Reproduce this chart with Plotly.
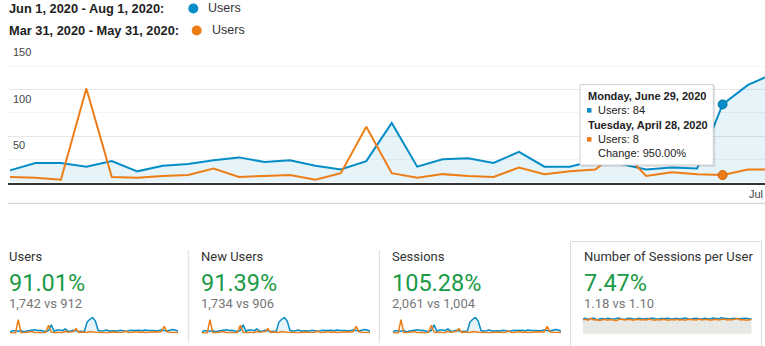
import plotly.graph_objects as go
import pandas as pd

W, H = 765, 346
def px(x): return x / W
def py(y): return 1 - y / H

# ---------------- data ----------------
dates = pd.date_range("2020-06-01", periods=62, freq="D")          # Jun 1 - Aug 1, 2020
prev_dates = pd.date_range("2020-03-31", periods=62, freq="D")     # Mar 31 - May 31, 2020

users_cur = [13, 21, 21, 17, 23, 12, 18, 20, 24, 27,
             22, 24, 18, 14, 23, 64, 17, 25, 26, 21,
             33, 17, 17, 24, 20, 14, 16, 15, 84, 105,
             117, 92, 22, 18, 20, 26, 19, 22, 20, 18,
             23, 21, 17, 20, 24, 22, 25, 23, 21, 26,
             24, 22, 25, 20, 23, 27, 22, 18, 24, 30,
             26, 17]
users_prev = [6, 5, 3, 101, 6, 5, 7, 8, 15, 6,
              7, 8, 3, 10, 60, 10, 5, 9, 7, 6,
              16, 9, 12, 14, 35, 7, 11, 9, 8, 14,
              14, 9, 7, 10, 8, 6, 9, 7, 11, 8,
              6, 9, 18, 8, 7, 10, 15, 8, 11, 7,
              9, 8, 10, 12, 11, 14, 52, 12, 10, 9,
              11, 8]
spu_cur = [1.15, 1.20, 1.12, 1.18, 1.22, 1.10, 1.16, 1.19, 1.14, 1.21,
           1.17, 1.12, 1.19, 1.23, 1.15, 1.11, 1.18, 1.20, 1.16, 1.13,
           1.21, 1.18, 1.14, 1.19, 1.17, 1.22, 1.15, 1.12, 1.19, 1.16,
           1.18, 1.21, 1.14, 1.17, 1.20, 1.15, 1.19, 1.22, 1.16, 1.13,
           1.18, 1.21, 1.17, 1.14, 1.20, 1.18, 1.15, 1.22, 1.19, 1.16,
           1.24, 1.20, 1.17, 1.14, 1.19, 1.21, 1.16, 1.18, 1.15, 1.20,
           1.17, 1.14]
spu_prev = [1.08, 1.12, 1.05, 1.20, 1.07, 1.10, 1.04, 1.09, 1.13, 1.06,
            1.10, 1.08, 1.02, 1.11, 1.15, 1.07, 1.09, 1.12, 1.06, 1.10,
            1.13, 1.08, 1.11, 1.07, 1.14, 1.09, 1.06, 1.10, 1.08, 1.12,
            1.09, 1.05, 1.11, 1.08, 1.13, 1.07, 1.10, 1.06, 1.12, 1.09,
            1.11, 1.07, 1.15, 1.08, 1.10, 1.13, 1.06, 1.09, 1.12, 1.08,
            1.10, 1.14, 1.07, 1.11, 1.09, 1.12, 1.18, 1.08, 1.10, 1.06,
            1.09, 1.11]

y_ticks = [50, 100, 150]
y_minor = [25, 75, 125]
x_label = "Jul"

legend_ranges = ["Jun 1, 2020 - Aug 1, 2020:", "Mar 31, 2020 - May 31, 2020:"]
legend_metric = "Users"

hover_idx = 28  # Monday, June 29, 2020 vs Tuesday, April 28, 2020
hover_change = "950.00%"

metric_names = ["Users", "New Users", "Sessions", "Number of Sessions per User"]
metric_changes = ["91.01%", "91.39%", "105.28%", "7.47%"]
metric_compare = ["1,742 vs 912", "1,734 vs 906", "2,061 vs 1,004", "1.18 vs 1.10"]
spark_cur = [users_cur, users_cur, users_cur, spu_cur]
spark_prev = [users_prev, users_prev, users_prev, spu_prev]

# ---------------- style ----------------
BLUE = "#058DC7"
ORANGE = "#ED7E17"
GREEN = "#1a9a46"
ARIAL = "Liberation Sans, Arial, sans-serif"
ROBOTO = "Roboto, Arial, sans-serif"

fig = go.Figure()

# main chart
fig.add_trace(go.Scatter(x=dates, y=users_cur, mode="lines",
                         line=dict(color=BLUE, width=2),
                         fill="tozeroy", fillcolor="rgba(5,141,199,0.1)",
                         xaxis="x", yaxis="y", hoverinfo="skip"))
fig.add_trace(go.Scatter(x=dates, y=users_prev, mode="lines",
                         line=dict(color=ORANGE, width=2),
                         xaxis="x", yaxis="y", hoverinfo="skip"))
fig.add_trace(go.Scatter(x=[dates[hover_idx]], y=[users_cur[hover_idx]], mode="markers",
                         marker=dict(color=BLUE, size=9, line=dict(color="#04709f", width=1)),
                         xaxis="x", yaxis="y", hoverinfo="skip"))
fig.add_trace(go.Scatter(x=[dates[hover_idx]], y=[users_prev[hover_idx]], mode="markers",
                         marker=dict(color=ORANGE, size=9, line=dict(color="#c96510", width=1)),
                         xaxis="x", yaxis="y", hoverinfo="skip"))

# sparklines
spark_x = [(10, 178), (201.7, 370), (392.7, 561), (582.7, 751.7)]
layout_axes = {}
for i in range(4):
    n = i + 2
    xa, ya = f"x{n}", f"y{n}"
    if i < 3:
        fig.add_trace(go.Scatter(x=dates, y=spark_cur[i], mode="lines",
                                 line=dict(color=BLUE, width=1.5), fill="tozeroy",
                                 fillcolor="rgba(5,141,199,0.1)", xaxis=xa, yaxis=ya,
                                 hoverinfo="skip"))
    else:
        fig.add_trace(go.Scatter(x=dates, y=spark_cur[i], mode="lines",
                                 line=dict(color=BLUE, width=1.5), fill="tozeroy",
                                 fillcolor="#e8e8e4",
                                 fillpattern=dict(shape=".", bgcolor="#e9e9e5",
                                                  fgcolor="#dcdcd6", size=4, solidity=0.12),
                                 xaxis=xa, yaxis=ya, hoverinfo="skip"))
    fig.add_trace(go.Scatter(x=dates, y=spark_prev[i], mode="lines",
                             line=dict(color=ORANGE, width=1.5),
                             xaxis=xa, yaxis=ya, hoverinfo="skip"))
    x0, x1 = spark_x[i]
    if i < 3:
        ydom = [py(333.5), py(316.5)]
        yr = [0, 125]
    else:
        ydom = [py(334), py(317)]
        yr = [0, 1.3]
    layout_axes[f"xaxis{n}"] = dict(domain=[px(x0), px(x1)], range=[dates[0], dates[-1]],
                                    visible=False, fixedrange=True, anchor=ya)
    layout_axes[f"yaxis{n}"] = dict(domain=ydom, range=yr, visible=False, fixedrange=True,
                                    anchor=xa)

annotations = []
# y tick labels (inside, below grid line)
for v in y_ticks:
    annotations.append(dict(text=str(v), xref="paper", yref="y", x=px(10.5), y=v,
                            xanchor="left", yanchor="middle", yshift=-9, showarrow=False,
                            font=dict(family=ARIAL, size=11, color="#444")))
annotations.append(dict(text=x_label, xref="paper", yref="paper", x=px(765), y=py(194),
                        xanchor="right", yanchor="middle", showarrow=False,
                        font=dict(family=ARIAL, size=11, color="#444")))

# legend
leg_y = [8.5, 30.5]
dot_x = [193.3, 196.7]
user_x = [205.5, 209.5]
colors = [BLUE, ORANGE]
shapes = []
for k in range(2):
    annotations.append(dict(text=f"<b>{legend_ranges[k]}</b>", xref="paper", yref="paper",
                            x=px(7), y=py(leg_y[k]), xanchor="left", yanchor="middle",
                            showarrow=False, font=dict(family=ARIAL, size=12.8, color="#222")))
    annotations.append(dict(text=legend_metric, xref="paper", yref="paper",
                            x=px(user_x[k]), y=py(leg_y[k]), xanchor="left", yanchor="middle",
                            showarrow=False, font=dict(family=ARIAL, size=12.5, color="#333")))
    r = 5
    shapes.append(dict(type="circle", xref="paper", yref="paper",
                       x0=px(dot_x[k] - r), x1=px(dot_x[k] + r),
                       y0=py(leg_y[k] + r), y1=py(leg_y[k] - r),
                       fillcolor=colors[k], line=dict(width=0)))

# bottom separator line of chart
shapes.append(dict(type="line", xref="paper", yref="paper", x0=px(8), x1=1,
                   y0=py(203.3), y1=py(203.3), line=dict(color="#cccccc", width=1)))

# tooltip
tx0, tx1, ty0, ty1 = 580, 713.3, 84.7, 165
shapes.append(dict(type="rect", xref="paper", yref="paper", layer="above",
                   x0=px(tx0 + 1), x1=px(tx1 + 2), y0=py(ty1 + 2), y1=py(ty0 + 1),
                   fillcolor="rgba(0,0,0,0.10)", line=dict(width=0)))
shapes.append(dict(type="rect", xref="paper", yref="paper", layer="above",
                   x0=px(tx0), x1=px(tx1), y0=py(ty1), y1=py(ty0),
                   fillcolor="white", line=dict(color="#cfcfcf", width=1)))
for yy, c in [(110.3, BLUE), (139.3, ORANGE)]:
    shapes.append(dict(type="rect", xref="paper", yref="paper", layer="above",
                       x0=px(587), x1=px(591.5), y0=py(yy + 2.3), y1=py(yy - 2.2),
                       fillcolor=c, line=dict(width=0)))
cur_day = dates[hover_idx]
prev_day = prev_dates[hover_idx]
tip_lines = [
    (f"<b>{cur_day.strftime('%A')}, {cur_day.strftime('%B')} {cur_day.day}, {cur_day.year}</b>", 586, 95.7),
    (f"Users: {users_cur[hover_idx]}", 595.5, 110.3),
    (f"<b>{prev_day.strftime('%A')}, {prev_day.strftime('%B')} {prev_day.day}, {prev_day.year}</b>", 586, 124.5),
    (f"Users: {users_prev[hover_idx]}", 595.5, 139.3),
    (f"Change: {hover_change}", 595.5, 152.5),
]
for txt, xx, yy in tip_lines:
    annotations.append(dict(text=txt, xref="paper", yref="paper", x=px(xx), y=py(yy),
                            xanchor="left", yanchor="middle", showarrow=False,
                            font=dict(family=ARIAL, size=11, color="#222")))

# scorecards
card_x = [7.3, 198.5, 390, 581.5]
for i in range(4):
    annotations.append(dict(text=metric_names[i], xref="paper", yref="paper",
                            x=px(card_x[i]), y=py(256.5), xanchor="left", yanchor="middle",
                            showarrow=False, font=dict(family=ROBOTO, size=13, color="#333")))
    annotations.append(dict(text=metric_changes[i], xref="paper", yref="paper",
                            x=px(card_x[i]), y=py(283), xanchor="left", yanchor="middle",
                            showarrow=False, font=dict(family=ROBOTO, size=23.5, color=GREEN)))
    annotations.append(dict(text=metric_compare[i], xref="paper", yref="paper",
                            x=px(card_x[i]), y=py(303.5), xanchor="left", yanchor="middle",
                            showarrow=False, font=dict(family=ROBOTO, size=13, color="#777")))
for xs in [188.3, 379.3]:
    shapes.append(dict(type="line", xref="paper", yref="paper", x0=px(xs), x1=px(xs),
                       y0=py(343), y1=py(250), line=dict(color="#dddddd", width=1)))
shapes.append(dict(type="rect", xref="paper", yref="paper",
                   x0=px(570.5), x1=px(761.5), y0=py(352), y1=py(241.5),
                   line=dict(color="#dddddd", width=1), fillcolor="rgba(0,0,0,0)"))

fig.update_layout(
    width=W, height=H, margin=dict(l=0, r=0, t=0, b=0),
    paper_bgcolor="white", plot_bgcolor="white", showlegend=False,
    xaxis=dict(domain=[px(8), 1], range=["2020-05-31 22:07", "2020-06-30 16:00"],
               showgrid=False, showticklabels=False, zeroline=False, ticks="",
               showline=True, linecolor="#333333", linewidth=1.5, fixedrange=True),
    yaxis=dict(domain=[py(182.5), py(43)], range=[0, 150], tickvals=y_ticks,
               showticklabels=False, gridcolor="#e6e6e6", gridwidth=1, zeroline=False,
               showline=False, ticks="", fixedrange=True,
               minor=dict(tickvals=y_minor, showgrid=True, gridcolor="#f3f3f3", gridwidth=1)),
    annotations=annotations, shapes=shapes,
    **layout_axes,
)

fig.write_html("out.html")
